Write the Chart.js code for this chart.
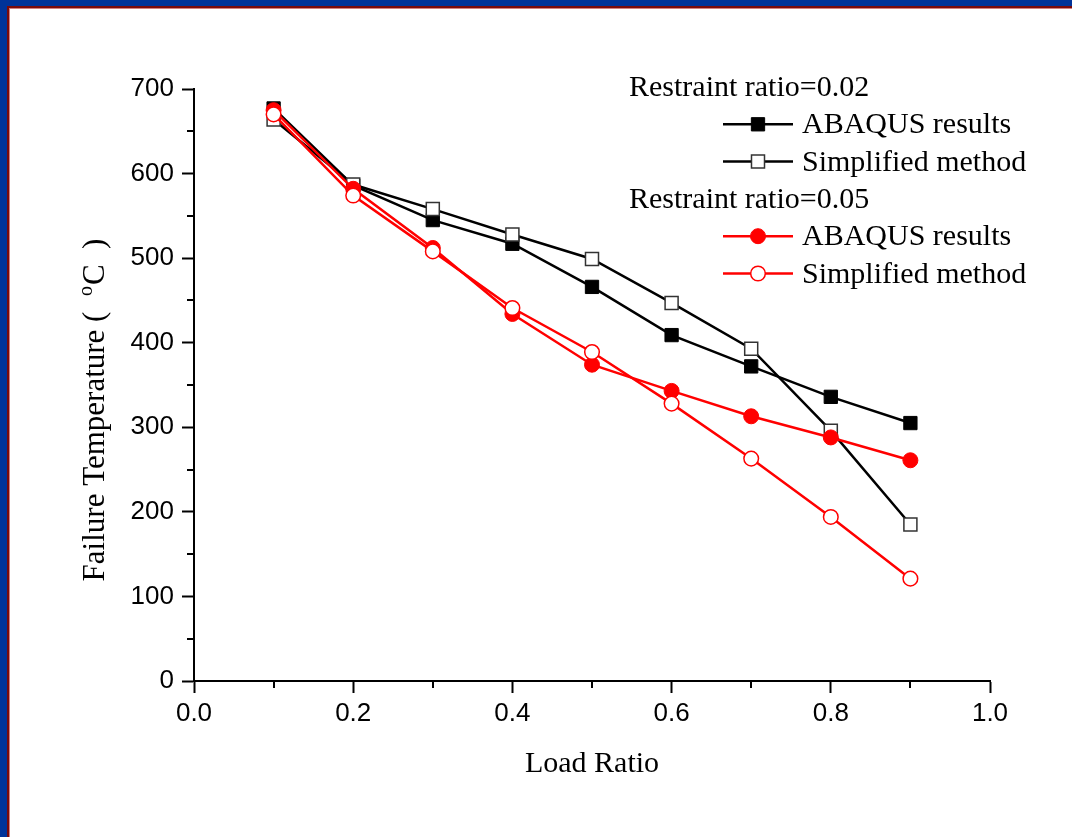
<!DOCTYPE html>
<html>
<head>
<meta charset="utf-8">
<script src="https://cdn.jsdelivr.net/npm/chart.js@4.4.0/dist/chart.umd.min.js"></script>
<style>
    html, body { margin: 0; padding: 0; background: #fff; }
    #wrap { position: relative; width: 1072px; height: 837px; overflow: hidden; background: #fff; }
    #mainChart { position: absolute; left: 0; top: 0; }
    .fr { position: absolute; }
</style>
</head>
<body>
<div id="wrap">
    <canvas id="mainChart" width="1072" height="837"></canvas>
    <div class="fr" style="left:0;top:0;width:1072px;height:6px;background:#003399"></div>
    <div class="fr" style="left:0;top:0;width:7px;height:837px;background:#003399"></div>
    <div class="fr" style="left:7px;top:6px;width:1065px;height:2px;background:#7a0a0a"></div>
    <div class="fr" style="left:7px;top:6px;width:2px;height:831px;background:#7a0a0a"></div>
    <div class="fr" style="left:9px;top:8px;width:1063px;height:1px;background:#d08080"></div>
    <div class="fr" style="left:9px;top:8px;width:1px;height:829px;background:#d08080"></div>
</div>
<script>
// -----------------------------
// data
// -----------------------------
const loadRatio = [0.1, 0.2, 0.3, 0.4, 0.5, 0.6, 0.7, 0.8, 0.9];

const abaqus002 = [677, 586, 545, 517, 466, 409, 372, 336, 305];
const simple002 = [664, 587, 558, 528, 499, 447, 393, 296, 185];
const abaqus005 = [675, 582, 512, 434, 374, 343, 313, 288, 261];
const simple005 = [670, 574, 508, 441, 389, 328, 263, 194, 121];

const groupTitles = ["Restraint ratio=0.02", "Restraint ratio=0.05"];
const seriesNames = ["ABAQUS results", "Simplified method"];

const yMinor = [50, 150, 250, 350, 450, 550, 650];
const xMinor = [0.1, 0.3, 0.5, 0.7, 0.9];

const SERIF = "'Liberation Serif', 'Times New Roman', serif";
const SANS = "'Liberation Sans', Arial, sans-serif";

function pts(vals) {
    return loadRatio.map((x, i) => ({ x: x, y: vals[i] }));
}

// -----------------------------
// minor ticks + legend + y title
// -----------------------------
const extras = {
    id: "extras",
    afterDraw(chart) {
        const ctx = chart.ctx;
        const xs = chart.scales.x;
        const ys = chart.scales.y;
        const area = chart.chartArea;

        ctx.save();
        ctx.strokeStyle = "#000";
        ctx.lineWidth = 2;
        yMinor.forEach(v => {
            const py = Math.round(ys.getPixelForValue(v));
            ctx.beginPath();
            ctx.moveTo(area.left - 7, py);
            ctx.lineTo(area.left, py);
            ctx.stroke();
        });
        xMinor.forEach(v => {
            const px = Math.round(xs.getPixelForValue(v));
            ctx.beginPath();
            ctx.moveTo(px, area.bottom);
            ctx.lineTo(px, area.bottom + 7);
            ctx.stroke();
        });

        // legend (grouped)
        ctx.font = "30px " + SERIF;
        ctx.fillStyle = "#000";
        ctx.textAlign = "left";
        ctx.textBaseline = "alphabetic";
        const step = 37.3;
        let base = 96;
        const ds = chart.data.datasets;
        [[0, 1], [2, 3]].forEach((grp, g) => {
            ctx.fillStyle = "#000";
            ctx.fillText(groupTitles[g], 629, base);
            base += step;
            grp.forEach(k => {
                const d = ds[k];
                const ly = base - 9;
                ctx.strokeStyle = d.borderColor;
                ctx.lineWidth = d.borderWidth;
                ctx.beginPath();
                ctx.moveTo(723, ly);
                ctx.lineTo(793, ly);
                ctx.stroke();
                drawMarker(ctx, d, 758, ly);
                ctx.fillStyle = "#000";
                ctx.fillText(d.label, 802, base);
                base += step;
            });
        });

        // y axis title with superscript o
        ctx.translate(104, 410);
        ctx.rotate(-Math.PI / 2);
        const a = "Failure Temperature (\u2002";
        const b = "C\u2002)";
        ctx.font = "31px " + SERIF;
        const wa = ctx.measureText(a).width;
        const wb = ctx.measureText(b).width;
        ctx.font = "20px " + SERIF;
        const wo = ctx.measureText("o").width + 1;
        const total = wa + wo + wb;
        let x0 = -total / 2;
        ctx.fillStyle = "#000";
        ctx.font = "31px " + SERIF;
        ctx.fillText(a, x0, 0);
        ctx.font = "20px " + SERIF;
        ctx.fillText("o", x0 + wa, -12);
        ctx.font = "31px " + SERIF;
        ctx.fillText(b, x0 + wa + wo, 0);
        ctx.restore();
    }
};

function drawMarker(ctx, d, x, y) {
    ctx.save();
    ctx.fillStyle = d.pointBackgroundColor;
    ctx.strokeStyle = d.pointBorderColor;
    ctx.lineWidth = d.pointBorderWidth;
    ctx.beginPath();
    if (d.pointStyle === "rect") {
        const s = Math.SQRT1_2 * d.pointRadius;
        ctx.rect(x - s, y - s, 2 * s, 2 * s);
    } else {
        ctx.arc(x, y, d.pointRadius, 0, Math.PI * 2);
    }
    ctx.fill();
    ctx.stroke();
    ctx.restore();
}

// -----------------------------
// chart
// -----------------------------
const ctx = document.getElementById("mainChart");

new Chart(ctx, {
    type: "scatter",
    data: {
        datasets: [
            {
                label: seriesNames[0],
                data: pts(abaqus002),
                showLine: true,
                borderColor: "#000",
                borderWidth: 2.5,
                pointStyle: "rect",
                pointRadius: 9.4,
                pointBackgroundColor: "#000",
                pointBorderColor: "#000",
                pointBorderWidth: 1,
                order: 3
            },
            {
                label: seriesNames[1],
                data: pts(simple002),
                showLine: true,
                borderColor: "#000",
                borderWidth: 2.5,
                pointStyle: "rect",
                pointRadius: 9.2,
                pointBackgroundColor: "#fff",
                pointBorderColor: "#333",
                pointBorderWidth: 1.5,
                order: 2
            },
            {
                label: seriesNames[0],
                data: pts(abaqus005),
                showLine: true,
                borderColor: "#ff0000",
                borderWidth: 2.5,
                pointStyle: "circle",
                pointRadius: 7.5,
                pointBackgroundColor: "#ff0000",
                pointBorderColor: "#ff0000",
                pointBorderWidth: 1,
                order: 1
            },
            {
                label: seriesNames[1],
                data: pts(simple005),
                showLine: true,
                borderColor: "#ff0000",
                borderWidth: 2.5,
                pointStyle: "circle",
                pointRadius: 7.3,
                pointBackgroundColor: "#fff",
                pointBorderColor: "#ff0000",
                pointBorderWidth: 1.5,
                order: 0
            }
        ]
    },
    options: {
        responsive: false,
        animation: false,
        layout: {
            padding: { left: 0, top: 89, right: 82, bottom: 0 }
        },
        plugins: {
            legend: { display: false },
            tooltip: { enabled: false }
        },
        scales: {
            x: {
                type: "linear",
                min: 0,
                max: 1,
                afterFit(scale) { scale.height = 156; },
                border: { display: true, color: "#000", width: 2 },
                grid: {
                    drawOnChartArea: false,
                    drawTicks: true,
                    tickLength: 12,
                    tickWidth: 2,
                    tickColor: "#000",
                    color: "#000"
                },
                ticks: {
                    stepSize: 0.2,
                    padding: 5,
                    color: "#000",
                    font: { family: SANS, size: 26 },
                    callback: v => v.toFixed(1)
                },
                title: {
                    display: true,
                    text: "Load Ratio",
                    color: "#000",
                    font: { family: SERIF, size: 30 },
                    padding: { top: 0, bottom: 55 }
                }
            },
            y: {
                min: 0,
                max: 700,
                afterFit(scale) { scale.width = 194; },
                border: { display: true, color: "#000", width: 2 },
                grid: {
                    drawOnChartArea: false,
                    drawTicks: true,
                    tickLength: 12,
                    tickWidth: 2,
                    tickColor: "#000",
                    color: "#000"
                },
                ticks: {
                    stepSize: 100,
                    padding: 8,
                    color: "#000",
                    font: { family: SANS, size: 26 }
                }
            }
        }
    },
    plugins: [extras]
});
</script>
</body>
</html>
